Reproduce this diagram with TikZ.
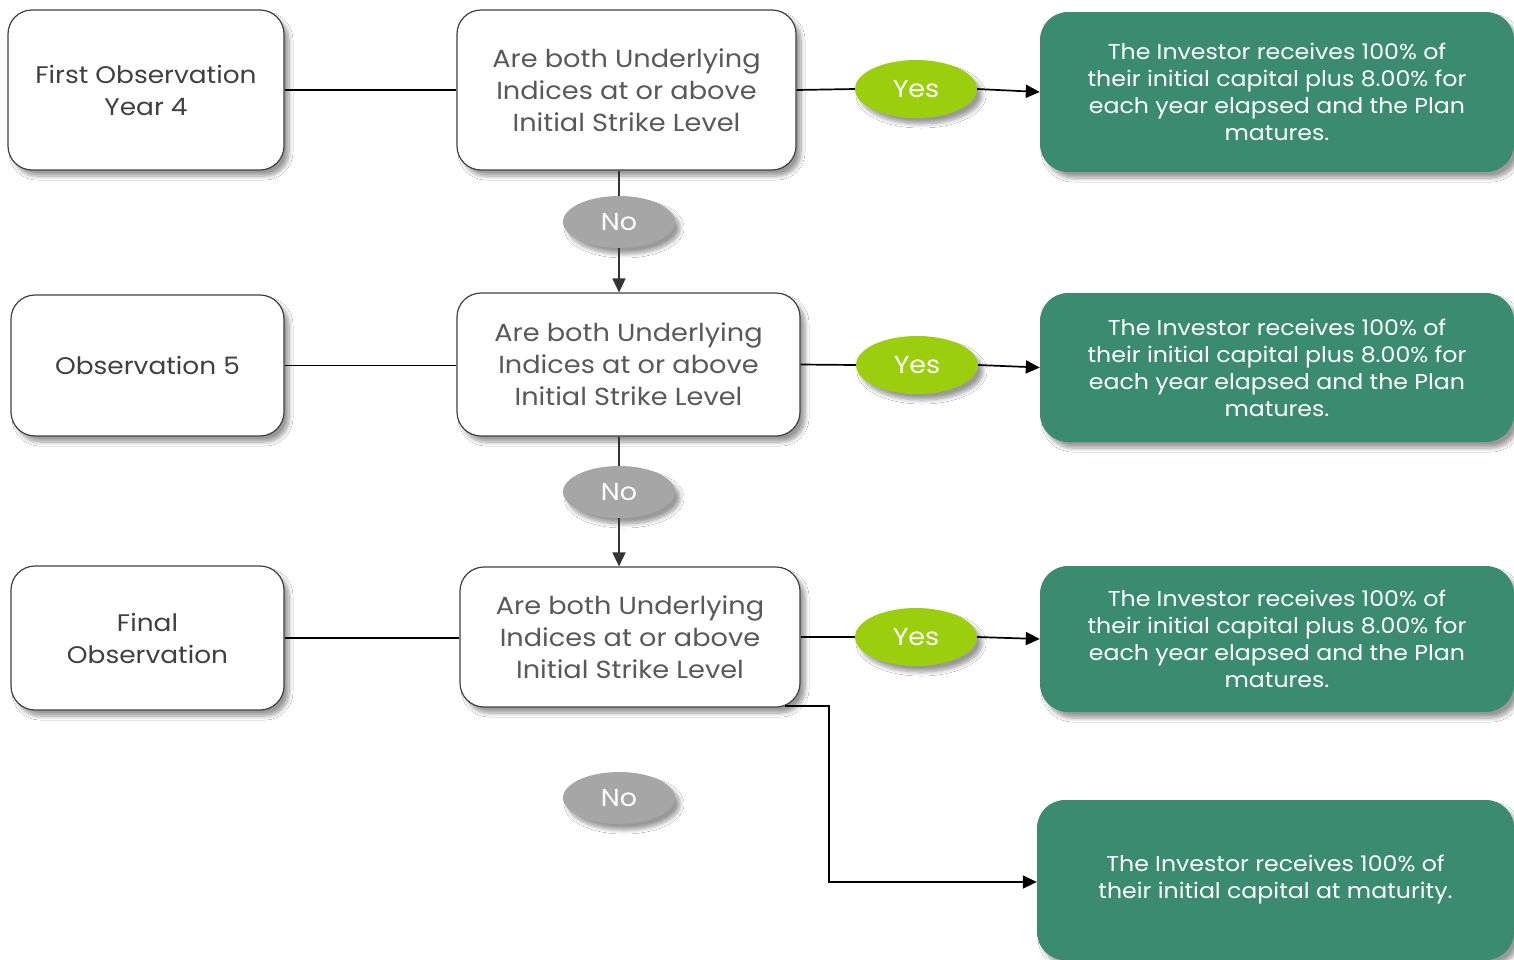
\documentclass[tikz,border=0pt]{standalone}
\usepackage{fontspec}
\setmainfont[FakeStretch=1.1]{Poppins}
\usetikzlibrary{shapes.geometric,shadows.blur,arrows.meta}
\definecolor{boxgreen}{HTML}{3A8B70}
\definecolor{yesgreen}{HTML}{9BCF0E}
\definecolor{nogray}{HTML}{A6A6A6}
\definecolor{midtext}{HTML}{595959}
\definecolor{lefttext}{HTML}{404040}
\tikzset{
  shad/.style={blur shadow={shadow xshift=5pt,shadow yshift=-6pt,shadow blur radius=4pt,shadow blur steps=8,shadow opacity=40}},
  leftbox/.style={draw=black!75,line width=1.2pt,fill=white,rounded corners=24pt,shad,
    align=center,text=lefttext,font=\fontsize{24}{32}\selectfont,inner sep=0pt},
  midbox/.style={draw=black!75,line width=1.2pt,fill=white,rounded corners=24pt,shad,
    align=center,text=midtext,font=\fontsize{24.7}{32}\selectfont,inner sep=0pt},
  resbox/.style={fill=boxgreen,rounded corners=28pt,shad,align=center,text=white,
    font=\fontsize{21.5}{27}\selectfont,inner sep=0pt},
  yesell/.style={ellipse,fill=yesgreen,shad,text=white,minimum width=122pt,minimum height=58pt,
    font=\fontsize{24.5}{28}\selectfont,inner sep=0pt},
  noell/.style={ellipse,fill=nogray,shad,text=white,minimum width=112pt,minimum height=52pt,
    font=\fontsize{24.5}{28}\selectfont,inner sep=0pt},
  conn/.style={line width=1.7pt,draw=black},
  vconn/.style={line width=1.6pt,draw=black!80},
  arr/.style={-{Triangle[length=14pt,width=13pt]}}
}
\begin{document}
\begin{tikzpicture}[x=1pt,y=-1pt]
\clip (0,0) rectangle (1514,959);
\fill[white] (0,0) rectangle (1514,959);
% left boxes
\node[leftbox,minimum width=276pt,minimum height=160pt] (l1) at (146,90) {First Observation\\Year 4};
\node[leftbox,minimum width=273pt,minimum height=141pt] (l2) at (147.5,365.5) {Observation 5};
\node[leftbox,minimum width=273pt,minimum height=144pt] (l3) at (147.5,638) {Final\\Observation};
% middle boxes
\node[midbox,minimum width=339pt,minimum height=160pt] (m1) at (626.5,90) {Are both Underlying\\Indices at or above\\Initial Strike Level};
\node[midbox,minimum width=343pt,minimum height=143pt] (m2) at (628.5,364.5) {Are both Underlying\\Indices at or above\\Initial Strike Level};
\node[midbox,minimum width=340pt,minimum height=140pt] (m3) at (630,637) {Are both Underlying\\Indices at or above\\Initial Strike Level};
% result boxes
\node[resbox,minimum width=474pt,minimum height=160pt] (r1) at (1277,92) {The Investor receives 100\% of\\their initial capital plus 8.00\% for\\each year elapsed and the Plan\\matures.};
\node[resbox,minimum width=474pt,minimum height=149pt] (r2) at (1277,367.5) {The Investor receives 100\% of\\their initial capital plus 8.00\% for\\each year elapsed and the Plan\\matures.};
\node[resbox,minimum width=474pt,minimum height=146pt] (r3) at (1277,639) {The Investor receives 100\% of\\their initial capital plus 8.00\% for\\each year elapsed and the Plan\\matures.};
\node[resbox,minimum width=477pt,minimum height=160pt] (r4) at (1275.5,880) {The Investor receives 100\% of\\their initial capital at maturity.};
% yes / no
\node[yesell] (y1) at (916,89) {Yes};
\node[yesell] (y2) at (917,365) {Yes};
\node[yesell] (y3) at (916,637) {Yes};
\node[noell] (n1) at (619,222) {No};
\node[noell] (n2) at (619,492) {No};
\node[noell] (n3) at (619,798) {No};
% connectors
\draw[conn] (l1.east) -- (m1.west |- l1.east);
\draw[conn] (l2.east) -- (m2.west |- l2.east);
\draw[conn] (l3.east) -- (m3.west |- l3.east);
\draw[conn] (m1.east) -- (y1.west);
\draw[conn] (m2.east) -- (y2.west);
\draw[conn] (m3.east) -- (y3.west);
\draw[conn,arr] (y1.east) -- (r1.west);
\draw[conn,arr] (y2.east) -- (r2.west);
\draw[conn,arr] (y3.east) -- (r3.west);
\draw[vconn] (m1.south -| n1) -- (n1.north);
\draw[vconn,arr] (n1.south) -- (m2.north -| n1);
\draw[vconn] (m2.south -| n2) -- (n2.north);
\draw[vconn,arr] (n2.south) -- (m3.north -| n2);
\coordinate (c1) at (829,706);
\coordinate (c2) at (829,882);
\draw[conn,arr] (785,706) -- (c1) -- (c2) -- (r4.west |- c2);
\end{tikzpicture}
\end{document}
